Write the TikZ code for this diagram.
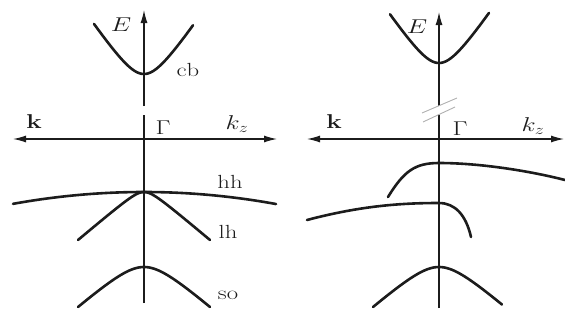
\RequirePackage{fix-cm}
\documentclass[tikz,border=0pt]{standalone}
\usepackage{graphicx}
\usepackage{xcolor}
\definecolor{inkdark}{RGB}{28, 28, 28}
\definecolor{inkfaint}{RGB}{175, 175, 175}
\usetikzlibrary{arrows.meta}
% labels are printed a little wider than tall
\newcommand{\widelbl}[1]{\scalebox{1.3}[1]{#1}}
\tikzset{
  % --- LINES ---
  axis/.style={
    draw=inkdark,
    line width=1.2pt
  },
  axis-arrw/.style={
    axis,
    -{Latex[length=13pt,width=7pt]}
  },
  axis-both/.style={
    axis,
    {Latex[length=13pt,width=7pt]}-{Latex[length=13pt,width=7pt]}
  },
  band/.style={
    draw=inkdark,
    line width=2.6pt,
    line cap=round
  },
  break-mark/.style={
    draw=inkfaint,
    line width=0.9pt
  },
  % --- LABELS ---
  lbl/.style={
    text=inkdark,
    font=\fontsize{19}{21}\selectfont,
    inner sep=1pt
  },
  symlbl/.style={
    lbl,
    font=\fontsize{20}{22}\selectfont
  },
}
\begin{document}
\begin{tikzpicture}[x=1pt, y=-1pt]
  \useasboundingbox (0,0) rectangle (565,335);
  % --- left panel: axes
  \coordinate (lE-bot)  at (144,303);
  \coordinate (lE-gapb) at (144,115);
  \coordinate (lE-gapt) at (144,106);
  \coordinate (lE-top)  at (144,10);
  \coordinate (lk-left) at (13,139);
  \coordinate (lk-right) at (277,139);
  \draw[axis] (lE-bot) -- (lE-gapb);
  \draw[axis-arrw] (lE-gapt) -- (lE-top);
  \draw[axis-both] (lk-left) -- (lk-right);
  % --- left panel: bands
  \draw[band] plot[domain=-50:49, samples=60] ({144+\x},{74-1.48*(sqrt(400+\x*\x)-20)});
  \draw[band] plot[domain=-131:132, samples=60] ({144+\x},{192+0.069*(\x/10)*(\x/10)});
  \draw[band] plot[domain=-66:66, samples=60] ({144+\x},{192+0.846*(sqrt(100+\x*\x)-10)});
  \draw[band] plot[domain=-66:66, samples=60] ({144+\x},{267+0.878*(sqrt(625+\x*\x)-25)});
  % --- left panel: labels
  \node[symlbl] (lE)  at (121,25)  {\widelbl{$E$}};
  \node[lbl]    (lcb) at (188,70)  {\widelbl{cb}};
  \node[symlbl] (lk)  at (34,122)  {\widelbl{$\mathbf{k}$}};
  \node[symlbl] (lG)  at (163,128) {\widelbl{$\Gamma$}};
  \node[symlbl] (lkz) at (237,124) {\widelbl{$k_z$}};
  \node[lbl]    (lhh) at (230,182) {\widelbl{hh}};
  \node[lbl]    (llh) at (228,232) {\widelbl{lh}};
  \node[lbl]    (lso) at (228,295) {\widelbl{so}};
  % --- right panel: axes
  \coordinate (rE-bot)  at (439,308);
  \coordinate (rE-gapb) at (439,115);
  \coordinate (rE-gapt) at (439,106);
  \coordinate (rE-top)  at (439,12);
  \coordinate (rk-left) at (307,139);
  \coordinate (rk-right) at (564,139);
  \draw[axis] (rE-bot) -- (rE-gapb);
  \draw[axis-arrw] (rE-gapt) -- (rE-top);
  \draw[axis-both] (rk-left) -- (rk-right);
  \draw[break-mark] (422,113) -- (457,98);
  \draw[break-mark] (423,122) -- (455,107);
  % --- right panel: bands
  \draw[band] plot[domain=-49:50, samples=60] ({439+\x},{63-1.48*(sqrt(400+\x*\x)-20)});
  \draw[band] (388,197) .. controls (404,171) and (415,163) .. (439,163)
              .. controls (480,163) and (530,171) .. (565,180);
  \draw[band] (307,220) .. controls (360,206) and (400,203) .. (439,203)
              .. controls (455,203) and (466,215) .. (471,237);
  \draw[band] plot[domain=-66:63, samples=60] ({439+\x},{267+0.878*(sqrt(625+\x*\x)-25)});
  % --- right panel: labels
  \node[symlbl] (rE)  at (417,27)  {\widelbl{$E$}};
  \node[symlbl] (rk)  at (334,122) {\widelbl{$\mathbf{k}$}};
  \node[symlbl] (rG)  at (460,129) {\widelbl{$\Gamma$}};
  \node[symlbl] (rkz) at (533,126) {\widelbl{$k_z$}};
\end{tikzpicture}
\end{document}
